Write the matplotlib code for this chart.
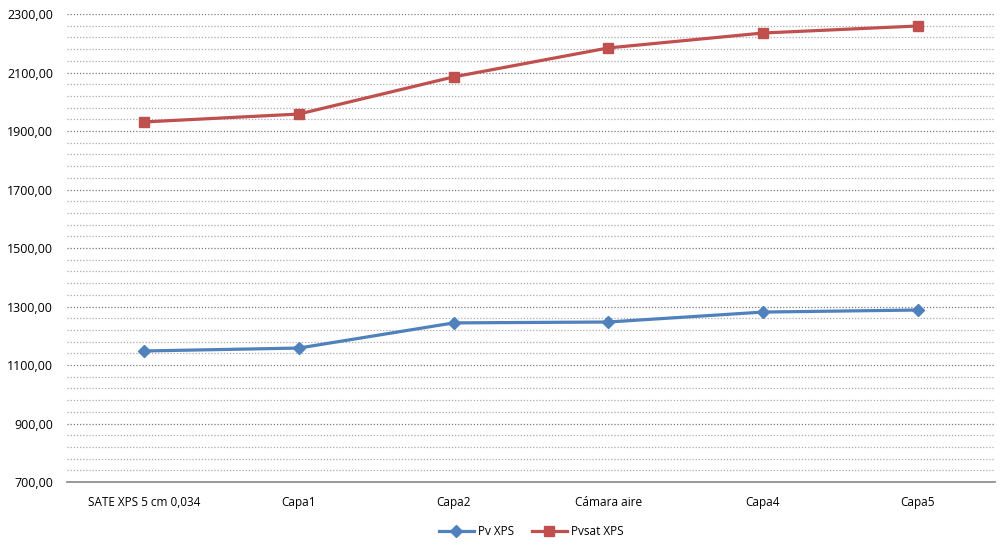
import matplotlib
matplotlib.use("Agg")
import matplotlib.pyplot as plt
import numpy as np
from matplotlib.ticker import FuncFormatter

categories = ["SATE XPS 5 cm 0,034", "Capa1", "Capa2", "Cámara aire", "Capa4", "Capa5"]
pv_xps = [1148, 1158, 1244, 1247, 1281, 1288]
pvsat_xps = [1931, 1958, 2085, 2184, 2235, 2259]

plt.rcParams['font.family'] = ['Open Sans', 'DejaVu Sans']

fig = plt.figure(figsize=(10.04, 5.47), dpi=100)
ax = fig.add_axes([0.0667, 0.1188, 0.9243, 0.8556])

x = list(range(len(categories)))
ax.plot(x, pv_xps, color="#4F81BD", lw=2.3, marker="D", ms=6.5, label="Pv XPS")
ax.plot(x, pvsat_xps, color="#C0504D", lw=2.3, marker="s", ms=7, label="Pvsat XPS")

ax.set_xlim(-0.5, len(categories) - 0.5)
ax.set_ylim(700, 2300)
ax.set_yticks(np.arange(700, 2301, 200))
ax.set_yticks(np.arange(700, 2301, 40), minor=True)
ax.yaxis.set_major_formatter(FuncFormatter(lambda v, p: f"{v:.2f}".replace(".", ",")))
ax.set_xticks(x)
ax.set_xticklabels(categories)
ax.grid(which="major", axis="y", color="#7A7A7A", ls=(0, (1, 1.5)), lw=0.9)
ax.grid(which="minor", axis="y", color="#AAAAAA", ls=(0, (1, 1.5)), lw=0.9)
ax.set_axisbelow(True)
for s in ["left", "right", "top"]:
    ax.spines[s].set_visible(False)
ax.spines["bottom"].set_color("#868686")
ax.spines["bottom"].set_linewidth(1.2)
ax.tick_params(axis="both", which="both", length=0, colors="#000000")
ax.tick_params(axis="y", pad=10, labelsize=9)
ax.tick_params(axis="x", pad=10, labelsize=8.5)

ax.legend(loc="center", bbox_to_anchor=(0.5, -0.105), ncol=2, frameon=False,
          fontsize=8.5, handlelength=3, columnspacing=1.5, handletextpad=0.3,
          borderpad=0.2)

fig.savefig("out.png", dpi=100)
